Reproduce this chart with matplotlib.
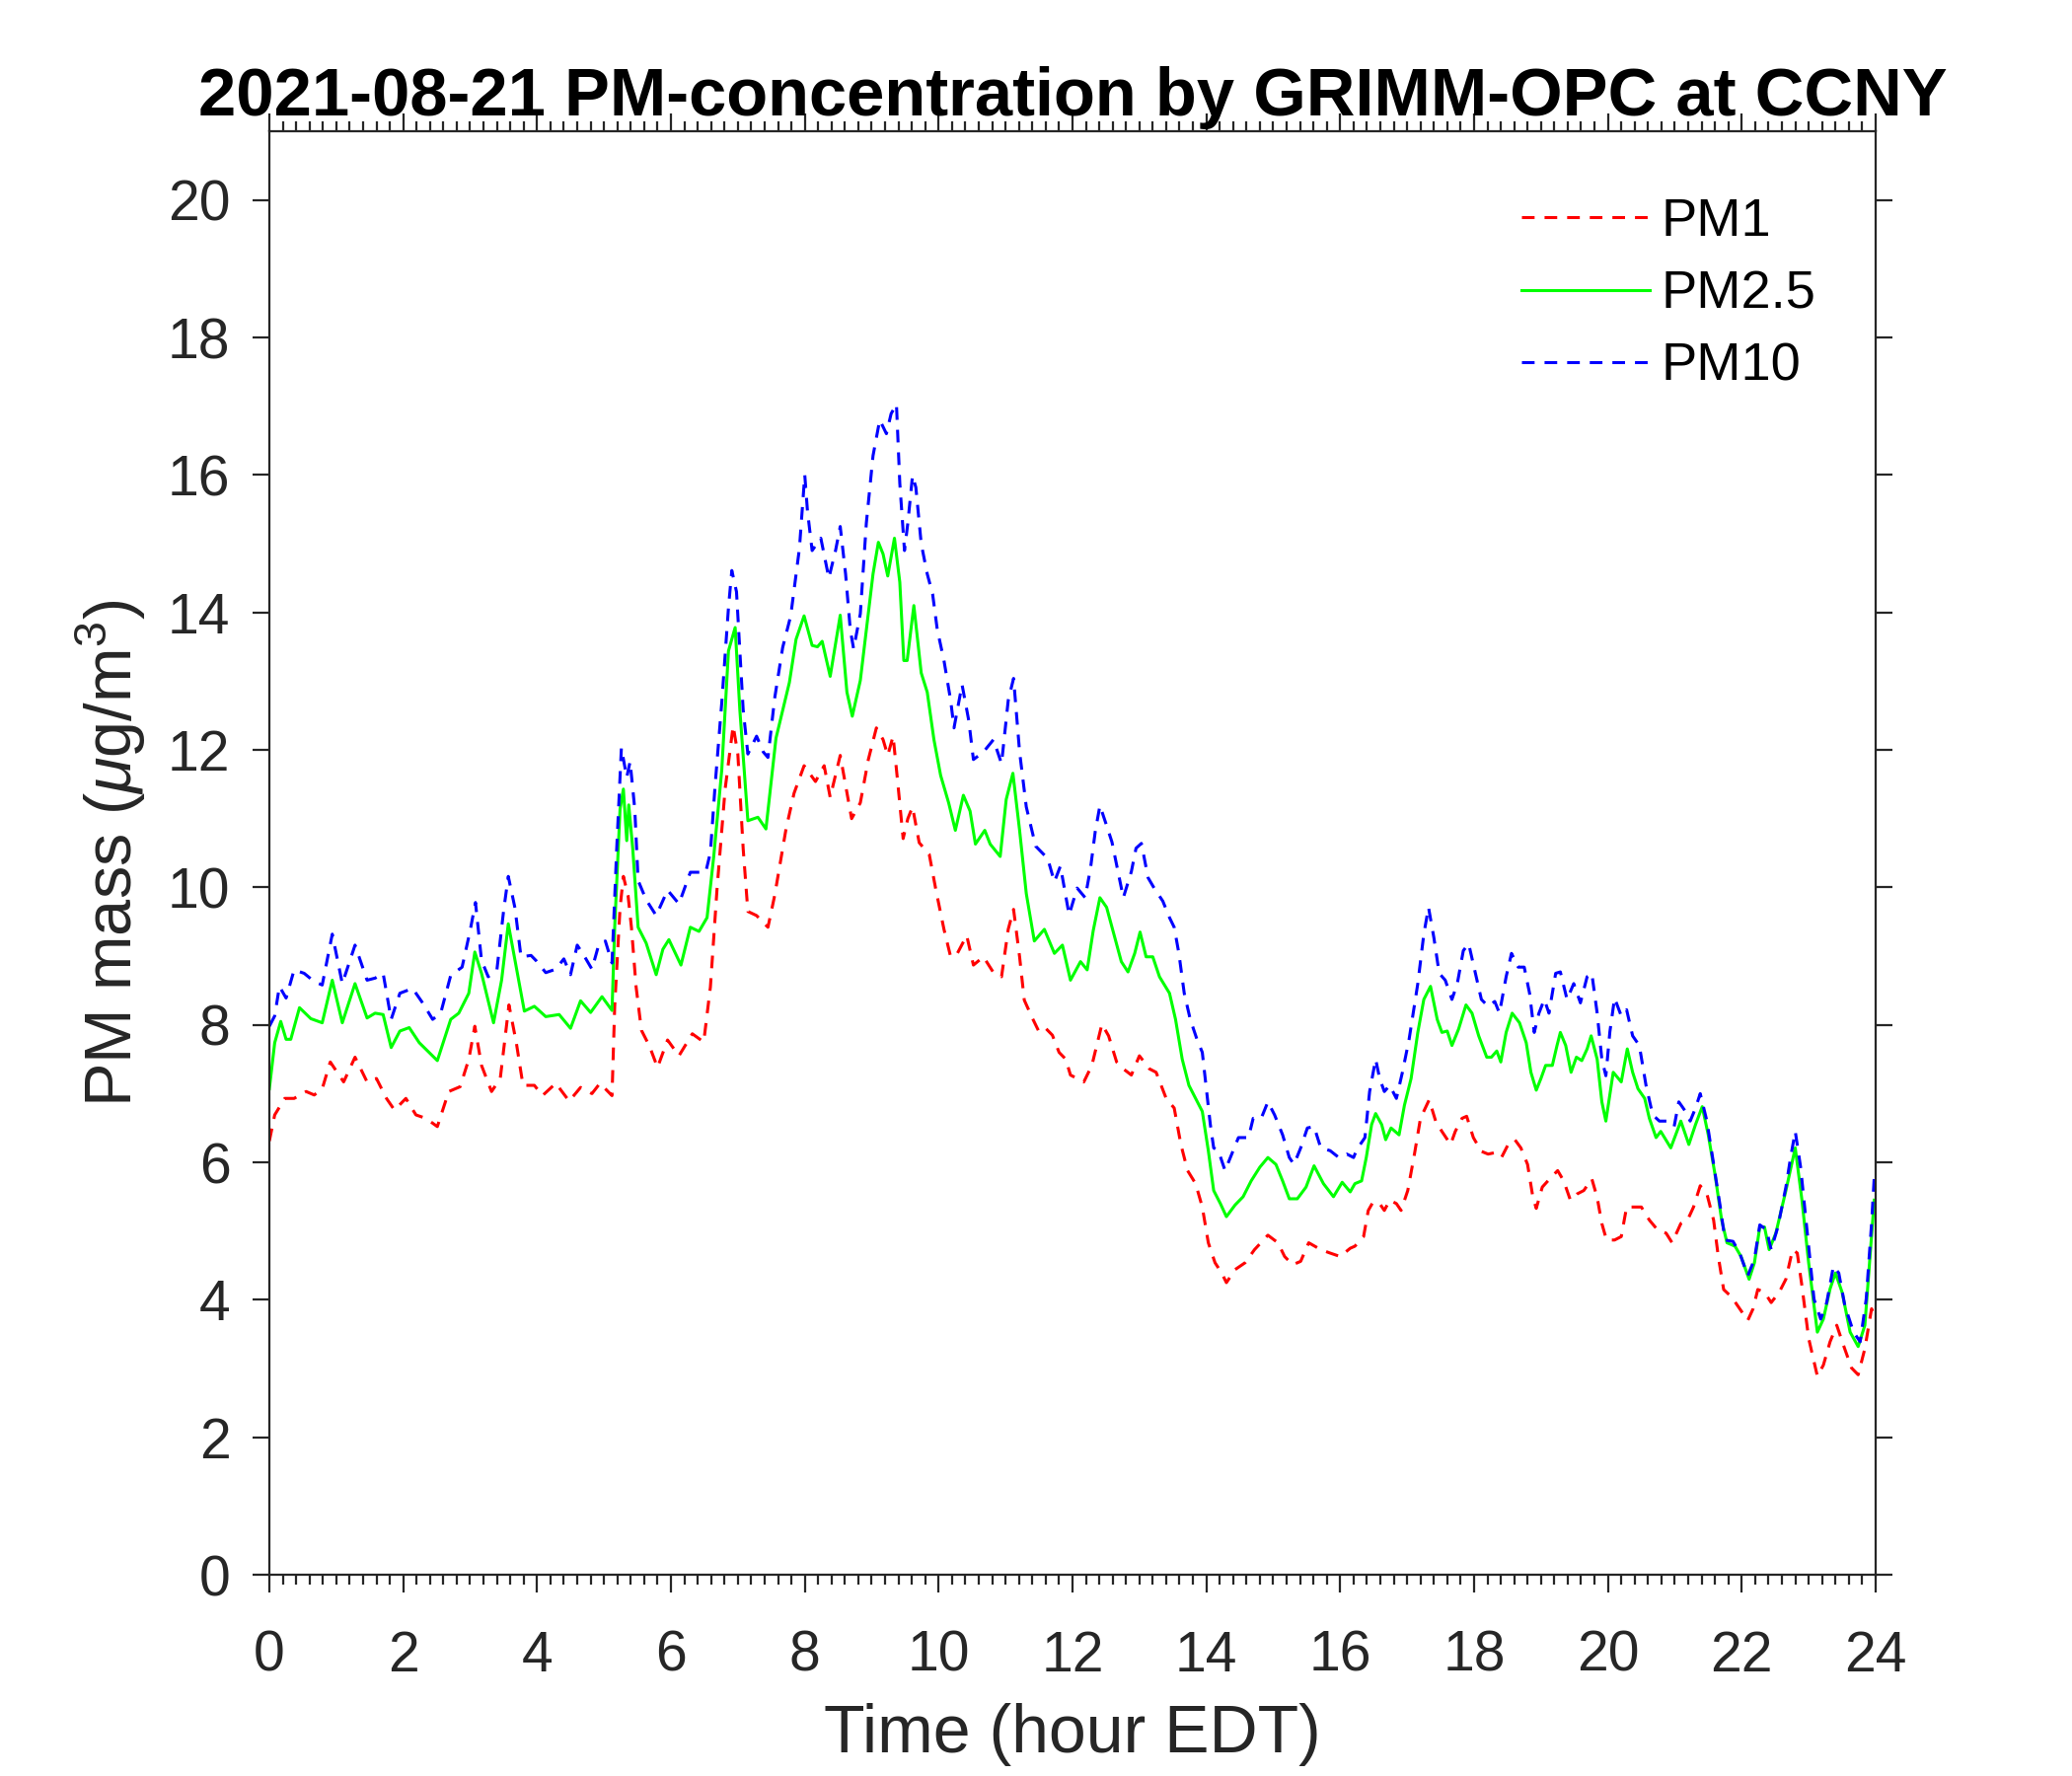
import numpy as np
import matplotlib
matplotlib.use('Agg')
import matplotlib.pyplot as plt
from matplotlib.ticker import MultipleLocator

# GRIMM-OPC readings, 2021-08-21 (hour EDT, ug/m3)
t_pm10 = [0.0,0.08,0.15,0.25,0.37,0.52,0.67,0.79,0.94,1.09,1.28,1.46,1.58,1.70,1.82,1.95,2.14,2.29,2.44,2.56,
          2.71,2.88,3.0,3.08,3.17,3.27,3.4,3.5,3.57,3.67,3.76,3.91,3.99,4.13,4.28,4.40,4.50,4.60,4.70,4.82,
          4.92,5.02,5.12,5.19,5.26,5.34,5.39,5.46,5.51,5.63,5.78,5.95,6.12,6.29,6.52,6.59,6.66,6.76,6.86,6.91,
          6.98,7.08,7.15,7.28,7.38,7.45,7.55,7.67,7.79,7.92,8.0,8.04,8.11,8.24,8.36,8.46,8.53,8.61,8.68,8.73,
          8.83,8.92,9.02,9.12,9.22,9.29,9.37,9.42,9.49,9.54,9.61,9.66,9.74,9.83,9.91,9.98,10.08,10.18,10.23,10.35,
          10.45,10.52,10.67,10.82,10.94,11.04,11.12,11.21,11.31,11.45,11.63,11.73,11.82,11.95,12.07,12.19,12.27,12.34,12.41,12.51,
          12.59,12.68,12.76,12.88,12.95,13.03,13.13,13.22,13.35,13.45,13.52,13.59,13.67,13.76,13.86,13.94,14.01,14.06,14.11,14.18,
          14.28,14.38,14.48,14.63,14.7,14.82,14.92,15.02,15.14,15.24,15.31,15.41,15.51,15.61,15.71,15.85,15.98,16.1,16.2,16.25,
          16.37,16.44,16.53,16.59,16.66,16.74,16.84,16.93,17.03,17.16,17.25,17.32,17.4,17.48,17.57,17.67,17.75,17.84,17.92,18.02,
          18.11,18.21,18.31,18.38,18.48,18.56,18.66,18.75,18.83,18.9,18.97,19.05,19.12,19.22,19.29,19.39,19.49,19.59,19.69,19.76,
          19.84,19.91,19.97,20.03,20.1,20.2,20.28,20.37,20.47,20.57,20.67,20.77,20.89,20.99,21.06,21.16,21.23,21.31,21.38,21.48,
          21.58,21.68,21.75,21.87,21.97,22.09,22.19,22.27,22.37,22.44,22.54,22.66,22.73,22.8,22.88,22.98,23.08,23.18,23.27,23.37,
          23.45,23.54,23.67,23.77,23.86,23.94,23.98]
pm10 = [7.98,8.13,8.56,8.39,8.8,8.75,8.63,8.58,9.32,8.6,9.16,8.65,8.68,8.75,8.08,8.46,8.53,8.32,8.08,8.17,
        8.72,8.84,9.37,9.78,8.94,8.7,8.8,9.66,10.16,9.7,8.99,9.01,8.93,8.76,8.81,8.96,8.73,9.16,9.01,8.81,
        9.16,9.22,8.9,10.56,12.03,11.6,11.83,11.14,10.1,9.82,9.59,9.96,9.76,10.22,10.22,10.51,11.48,12.69,14.07,14.61,
        14.3,12.58,11.94,12.2,11.97,11.89,12.75,13.49,13.95,14.93,16.0,15.48,14.9,15.08,14.5,14.9,15.25,14.56,13.75,13.47,
        13.98,15.3,16.28,16.8,16.6,16.89,17.03,15.88,14.9,15.3,15.99,15.82,15.0,14.56,14.27,13.75,13.3,12.72,12.32,12.95,
        12.43,11.86,11.97,12.15,11.8,12.72,13.04,11.97,11.17,10.6,10.42,10.08,10.31,9.6,9.99,9.85,10.28,10.81,11.19,10.9,
        10.66,10.23,9.85,10.23,10.57,10.64,10.14,9.99,9.8,9.56,9.42,9.04,8.46,8.08,7.79,7.6,6.98,6.55,6.21,6.17,
        5.88,6.12,6.36,6.36,6.64,6.64,6.88,6.69,6.4,6.07,5.97,6.21,6.5,6.52,6.21,6.17,6.07,6.12,6.07,6.19,
        6.36,7.03,7.5,7.22,7.03,7.12,6.93,7.31,7.79,8.6,9.32,9.71,9.27,8.75,8.65,8.37,8.6,9.08,9.18,8.75,
        8.37,8.27,8.34,8.17,8.7,9.04,8.84,8.84,8.46,7.89,8.17,8.37,8.17,8.75,8.77,8.37,8.6,8.32,8.7,8.75,
        8.17,7.5,7.26,7.9,8.39,8.13,8.22,7.84,7.7,7.12,6.69,6.6,6.6,6.52,6.88,6.74,6.6,6.79,7.0,6.6,
        5.97,5.35,4.87,4.85,4.68,4.35,4.59,5.09,5.02,4.73,5.06,5.64,6.07,6.45,5.93,4.97,4.01,3.72,3.96,4.49,
        4.39,3.92,3.53,3.39,4.01,5.11,5.78]

t_pm25 = [0.0,0.08,0.17,0.25,0.32,0.45,0.62,0.79,0.94,1.09,1.28,1.46,1.58,1.70,1.82,1.95,2.09,2.24,2.51,2.71,
          2.83,2.98,3.07,3.17,3.35,3.47,3.57,3.67,3.81,3.96,4.13,4.33,4.50,4.65,4.80,4.97,5.12,5.16,5.24,5.29,
          5.34,5.37,5.43,5.51,5.63,5.78,5.88,5.97,6.15,6.29,6.42,6.54,6.64,6.76,6.86,6.96,7.03,7.15,7.30,7.42,
          7.57,7.77,7.87,7.99,8.11,8.19,8.26,8.38,8.53,8.63,8.71,8.83,8.92,9.02,9.1,9.17,9.24,9.34,9.42,9.48,
          9.53,9.63,9.74,9.83,9.93,10.03,10.15,10.25,10.37,10.47,10.55,10.69,10.77,10.92,11.01,11.11,11.21,11.31,11.43,11.58,
          11.73,11.85,11.97,12.12,12.22,12.31,12.41,12.51,12.63,12.73,12.83,12.93,13.01,13.1,13.2,13.3,13.45,13.54,13.64,13.74,
          13.84,13.94,14.03,14.11,14.21,14.3,14.43,14.55,14.67,14.8,14.92,15.04,15.14,15.24,15.36,15.49,15.61,15.75,15.9,16.03,
          16.15,16.22,16.32,16.39,16.47,16.53,16.62,16.68,16.76,16.88,16.96,17.06,17.16,17.25,17.35,17.45,17.52,17.6,17.67,17.77,
          17.88,17.97,18.07,18.19,18.26,18.34,18.4,18.48,18.57,18.68,18.78,18.85,18.93,19.0,19.07,19.17,19.24,19.29,19.37,19.45,
          19.53,19.61,19.69,19.75,19.84,19.91,19.97,20.08,20.2,20.29,20.37,20.45,20.55,20.62,20.72,20.79,20.94,21.09,21.21,21.31,
          21.41,21.5,21.6,21.7,21.78,21.9,21.99,22.11,22.19,22.27,22.34,22.41,22.51,22.66,22.8,22.9,23.0,23.13,23.22,23.32,
          23.4,23.5,23.62,23.74,23.84,23.91,23.98]
pm25 = [7.07,7.74,8.05,7.79,7.79,8.25,8.09,8.03,8.65,8.03,8.6,8.1,8.17,8.15,7.67,7.91,7.96,7.74,7.48,8.08,
        8.17,8.46,9.06,8.75,8.03,8.65,9.47,8.94,8.2,8.27,8.12,8.15,7.95,8.35,8.18,8.41,8.21,9.42,11.14,11.43,
        10.68,11.2,10.56,9.42,9.19,8.73,9.1,9.24,8.87,9.42,9.36,9.56,10.45,11.71,13.44,13.78,12.58,10.97,11.02,10.85,
        12.17,12.98,13.61,13.95,13.52,13.5,13.58,13.07,13.96,12.84,12.49,13.01,13.75,14.56,15.02,14.85,14.53,15.08,14.44,13.3,
        13.3,14.1,13.12,12.84,12.15,11.63,11.23,10.83,11.34,11.11,10.63,10.83,10.63,10.45,11.28,11.66,10.83,9.91,9.22,9.39,
        9.04,9.16,8.65,8.92,8.8,9.37,9.85,9.71,9.28,8.92,8.77,9.04,9.35,8.99,8.99,8.7,8.46,8.08,7.5,7.12,
        6.93,6.74,6.17,5.59,5.4,5.21,5.38,5.5,5.73,5.93,6.07,5.97,5.73,5.47,5.47,5.64,5.95,5.69,5.5,5.71,
        5.57,5.69,5.73,6.07,6.55,6.71,6.55,6.33,6.5,6.4,6.83,7.22,7.89,8.37,8.56,8.08,7.89,7.91,7.7,7.94,
        8.29,8.17,7.84,7.53,7.53,7.62,7.46,7.89,8.17,8.03,7.74,7.31,7.05,7.22,7.41,7.41,7.7,7.89,7.7,7.31,
        7.53,7.48,7.65,7.84,7.5,6.88,6.6,7.31,7.17,7.65,7.31,7.07,6.93,6.64,6.36,6.45,6.21,6.6,6.26,6.55,
        6.81,6.4,5.83,5.16,4.83,4.78,4.63,4.3,4.54,5.06,5.06,4.73,4.97,5.59,6.21,5.45,4.54,3.53,3.72,4.16,
        4.39,4.11,3.53,3.32,3.63,4.54,5.45]

t_pm1 = [0.0,0.08,0.23,0.37,0.55,0.67,0.79,0.91,1.11,1.28,1.46,1.60,1.75,1.87,2.04,2.19,2.34,2.51,2.68,2.85,
         2.98,3.07,3.17,3.32,3.45,3.58,3.69,3.79,3.96,4.08,4.28,4.48,4.65,4.82,4.94,5.12,5.16,5.24,5.29,5.36,
         5.41,5.48,5.56,5.68,5.80,5.95,6.12,6.32,6.49,6.59,6.69,6.81,6.93,7.0,7.08,7.15,7.28,7.45,7.55,7.72,
         7.84,7.99,8.16,8.29,8.38,8.53,8.70,8.83,8.95,9.07,9.17,9.24,9.32,9.39,9.47,9.54,9.61,9.71,9.86,9.96,
         10.08,10.18,10.28,10.42,10.52,10.67,10.82,10.94,11.04,11.12,11.21,11.28,11.4,11.5,11.6,11.7,11.8,11.9,11.97,12.17,
         12.29,12.44,12.54,12.66,12.76,12.88,13.0,13.15,13.25,13.4,13.52,13.62,13.72,13.84,13.94,14.03,14.13,14.23,14.3,14.43,
         14.58,14.72,14.92,15.07,15.17,15.29,15.41,15.53,15.71,15.85,16.0,16.15,16.22,16.35,16.42,16.49,16.59,16.66,16.74,16.84,
         16.91,17.01,17.11,17.2,17.33,17.43,17.52,17.65,17.72,17.82,17.89,17.99,18.11,18.21,18.31,18.41,18.51,18.61,18.7,18.8,
         18.88,18.93,19.02,19.15,19.25,19.34,19.44,19.54,19.64,19.76,19.84,19.91,19.98,20.1,20.2,20.28,20.37,20.5,20.62,20.74,
         20.87,20.96,21.09,21.19,21.28,21.38,21.48,21.58,21.65,21.73,21.85,21.97,22.09,22.17,22.24,22.34,22.44,22.56,22.66,22.76,
         22.83,22.9,23.0,23.13,23.22,23.32,23.42,23.52,23.64,23.74,23.84,23.94,23.98]
pm1 = [6.31,6.69,6.93,6.93,7.03,6.98,7.07,7.46,7.17,7.53,7.17,7.22,6.93,6.76,6.93,6.69,6.64,6.52,7.03,7.1,
       7.5,7.98,7.41,7.03,7.22,8.29,7.74,7.12,7.12,6.97,7.15,6.89,7.09,7.0,7.15,6.97,8.27,9.7,10.16,9.88,
       9.42,8.55,7.92,7.69,7.38,7.78,7.55,7.87,7.75,8.55,9.99,11.43,12.35,11.94,10.56,9.65,9.59,9.42,9.88,10.85,
       11.37,11.77,11.54,11.77,11.31,11.92,11.0,11.23,11.86,12.32,12.15,11.92,12.2,11.52,10.71,11.0,11.17,10.65,10.48,9.96,
       9.39,8.99,9.04,9.3,8.87,8.99,8.76,8.7,9.39,9.68,8.99,8.36,8.1,7.9,7.95,7.85,7.6,7.5,7.27,7.17,
       7.41,8.01,7.84,7.46,7.36,7.27,7.55,7.36,7.31,6.93,6.79,6.26,5.88,5.69,5.35,4.83,4.54,4.39,4.25,4.44,
       4.54,4.73,4.94,4.83,4.63,4.51,4.56,4.83,4.73,4.68,4.63,4.75,4.78,4.92,5.3,5.42,5.4,5.3,5.45,5.4,
       5.3,5.59,6.12,6.64,6.91,6.59,6.45,6.26,6.45,6.64,6.67,6.36,6.16,6.12,6.14,6.07,6.26,6.33,6.21,5.97,
       5.49,5.33,5.64,5.78,5.88,5.73,5.45,5.54,5.59,5.76,5.49,5.11,4.87,4.87,4.92,5.35,5.35,5.35,5.16,5.02,
       4.97,4.83,5.11,5.16,5.35,5.66,5.54,5.16,4.63,4.15,4.04,3.87,3.7,3.87,4.15,4.11,3.96,4.11,4.3,4.73,
       4.68,4.2,3.44,2.89,3.05,3.39,3.63,3.34,3.01,2.91,3.29,3.87,3.77]

plt.rcParams['font.family'] = ['Liberation Sans', 'DejaVu Sans']
plt.rcParams['mathtext.fontset'] = 'custom'
plt.rcParams['mathtext.rm'] = 'Liberation Sans'
plt.rcParams['mathtext.it'] = 'Liberation Sans:italic'
plt.rcParams['axes.linewidth'] = 1.6

axc = '#262626'
fig = plt.figure(figsize=(21, 18), dpi=100)
ax = fig.add_axes([0.130, 0.1133, 0.7752, 0.8128])

ax.plot(t_pm1, pm1, color=(1, 0, 0), lw=2.2, dashes=(4.2, 3.3), label='PM1')
ax.plot(t_pm25, pm25, color=(0, 1, 0), lw=2.2, label='PM2.5')
ax.plot(t_pm10, pm10, color=(0, 0, 1), lw=2.2, dashes=(4.2, 3.3), label='PM10')

ax.set_xlim(0, 24)
ax.set_ylim(0, 21)
ax.xaxis.set_major_locator(MultipleLocator(2))
ax.xaxis.set_minor_locator(MultipleLocator(0.2))
ax.yaxis.set_major_locator(MultipleLocator(2))
ax.tick_params(which='both', direction='out', top=True, right=True, color=axc, width=1.6)
ax.tick_params(axis='x', which='major', length=13, pad=27, labelsize=41, labelcolor=axc)
ax.tick_params(axis='y', which='major', length=12.5, pad=16, labelsize=41, labelcolor=axc)
ax.tick_params(axis='x', which='minor', length=7)
for s in ax.spines.values():
    s.set_color(axc)

ax.set_xlabel('Time (hour EDT)', fontsize=49, color=axc, labelpad=15)
ax.set_ylabel(r'PM mass ($\mu$g/m$^3$)', fontsize=48, color=axc, labelpad=14)
ax.set_title('2021-08-21 PM-concentration by GRIMM-OPC at CCNY', fontsize=49.5,
             fontweight='bold', pad=11.5)

ax.legend(loc='upper left', bbox_to_anchor=(0.7795, 0.954), frameon=False, fontsize=39,
          handlelength=2.4, handletextpad=0.22, labelspacing=0.43, borderpad=0, borderaxespad=0)

fig.savefig('out.png', dpi=100)
